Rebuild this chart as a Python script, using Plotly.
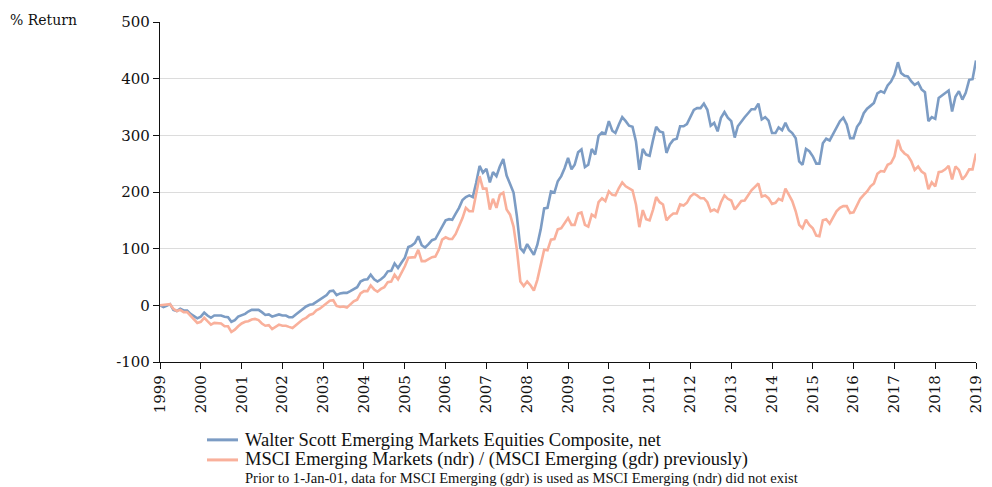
import pandas as pd
import plotly.graph_objects as go

ws_name = "Walter Scott Emerging Markets Equities Composite, net"
msci_name = "MSCI Emerging Markets (ndr) / (MSCI Emerging (gdr) previously)"
note = "Prior to 1-Jan-01, data for MSCI Emerging (gdr) is used as MSCI Emerging (ndr) did not exist"

dates = pd.date_range("1999-01-01", "2019-01-01", freq="MS")

ws = [
    0, -3, -1, 2, -8, -10, -6, -9, -9, -15, -19, -23,
    -20, -13, -18, -22, -18, -18, -18, -20, -21, -29, -26, -20,
    -18, -15, -11, -8, -8, -8, -12, -17, -16, -20, -18, -16,
    -18, -18, -21, -21, -16, -11, -6, -2, 1, 2, 6, 10,
    14, 18, 25, 26, 18, 21, 22, 22, 25, 29, 32, 42,
    45, 46, 54, 46, 42, 46, 51, 60, 61, 74, 66, 75,
    84, 103, 105, 110, 122, 106, 102, 108, 115, 117, 128, 139,
    150, 152, 151, 162, 172, 186, 191, 194, 191, 216, 246, 234,
    241, 217, 235, 228, 245, 258, 229, 214, 199, 157, 101, 94,
    108, 98, 89, 107, 134, 171, 172, 201, 199, 219, 228, 242,
    260, 240, 248, 270, 275, 244, 248, 276, 266, 299, 305, 303,
    325, 308, 304, 319, 332, 325, 317, 315, 289, 239, 276, 266,
    264, 292, 315, 307, 305, 269, 284, 292, 294, 316, 316, 320,
    334, 345, 348, 348, 356, 345, 317, 322, 307, 331, 341, 331,
    325, 296, 316, 325, 332, 339, 346, 346, 356, 328, 332, 326,
    304, 304, 314, 309, 322, 309, 304, 295, 254, 248, 276, 272,
    263, 250, 250, 286, 294, 291, 303, 315, 325, 331, 319, 295,
    295, 315, 323, 339, 347, 352, 357, 374, 378, 375, 388, 395,
    407, 429, 410, 405, 404, 395, 389, 393, 381, 376, 325, 332,
    329, 366, 370, 375, 379, 342, 368, 378, 363, 375, 398, 399,
    432,
]

msci = [
    0, 1, 2, 2, -6, -10, -8, -12, -12, -18, -25, -31,
    -29, -22, -28, -34, -31, -31, -32, -37, -37, -47, -43, -37,
    -32, -29, -28, -25, -24, -26, -32, -36, -35, -42, -38, -34,
    -36, -36, -38, -40, -35, -30, -25, -22, -17, -15, -9, -6,
    -1, 3, 8, 9, -1, -3, -2, -4, 1, 7, 10, 21,
    25, 25, 35, 28, 24, 29, 32, 41, 42, 54, 46, 57,
    69, 84, 84, 85, 98, 78, 78, 81, 85, 86, 98, 116,
    120, 117, 117, 126, 139, 154, 172, 166, 166, 195, 228, 206,
    206, 169, 188, 172, 195, 199, 169, 160, 139, 98, 42, 34,
    42, 35, 26, 45, 69, 98, 97, 116, 117, 134, 136, 145,
    154, 142, 142, 162, 164, 142, 139, 160, 156, 182, 189, 184,
    201, 195, 194, 207, 217, 210, 206, 203, 178, 138, 168, 152,
    150, 169, 191, 182, 178, 150, 157, 162, 162, 178, 176, 181,
    192, 197, 194, 189, 189, 182, 166, 169, 165, 182, 194, 188,
    185, 169, 176, 184, 185, 195, 203, 209, 215, 192, 194, 189,
    179, 181, 188, 185, 206, 195, 184, 166, 142, 136, 151, 142,
    136, 123, 122, 150, 152, 144, 154, 166, 172, 175, 175, 163,
    164, 178, 188, 195, 201, 210, 215, 232, 237, 236, 248, 251,
    263, 292, 275, 268, 264, 254, 239, 245, 236, 232, 205, 217,
    210, 235, 236, 240, 246, 222, 245, 239, 222, 229, 240, 240,
    268,
]

year_ticks = [f"{y}-01-01" for y in range(1999, 2020)]
year_labels = [str(y) for y in range(1999, 2020)]
y_ticks = [-100, 0, 100, 200, 300, 400, 500]
y_labels = [str(v) for v in y_ticks]

BLUE = "#7c9cc4"
SALMON = "#f9b09b"
TICKFONT = dict(family="DejaVu Serif", size=15, color="#111")
LEGFONT = dict(family="Liberation Serif", size=18.5, color="#111")

fig = go.Figure()
fig.add_trace(go.Scatter(x=dates, y=ws, mode="lines", name=ws_name,
                         line=dict(color=BLUE, width=2.6)))
fig.add_trace(go.Scatter(x=dates, y=msci, mode="lines", name=msci_name,
                         line=dict(color=SALMON, width=2.6)))

# manual legend (paper coordinates relative to plot area 816 x 340 px)
leg_x0, leg_x1, txt_x = 0.0576, 0.0956, 0.1017
leg_rows = [(-0.229, BLUE, ws_name), (-0.288, SALMON, msci_name)]
shapes = []
annotations = []
for yy, col, label in leg_rows:
    shapes.append(dict(type="line", xref="paper", yref="paper",
                       x0=leg_x0, x1=leg_x1, y0=yy, y1=yy,
                       line=dict(color=col, width=3)))
    annotations.append(dict(text=label, xref="paper", yref="paper",
                            x=txt_x, y=yy, xanchor="left", yanchor="middle",
                            showarrow=False, font=LEGFONT))
annotations.append(dict(text=note, xref="paper", yref="paper", x=txt_x, y=-0.343,
                        xanchor="left", yanchor="middle", showarrow=False,
                        font=dict(family="Liberation Serif", size=14.6, color="#111")))
annotations.append(dict(text="% Return", xref="paper", yref="paper", x=-0.186, y=1.006,
                        xanchor="left", yanchor="middle", showarrow=False,
                        font=dict(family="DejaVu Serif", size=14, color="#111")))

# page body adds an 8px offset, so margins are shifted by 8px
fig.update_layout(
    width=992, height=487,
    margin=dict(l=152, r=24, t=14, b=133, autoexpand=False),
    paper_bgcolor="white", plot_bgcolor="white",
    showlegend=False,
    xaxis=dict(
        type="date", range=["1999-01-01", "2019-01-01"],
        tickvals=year_ticks, ticktext=year_labels, tickangle=-90,
        tickfont=TICKFONT, showgrid=False, showline=True, linecolor="#111",
        linewidth=1.2, ticks="outside", ticklen=6, tickcolor="#111", zeroline=False,
    ),
    yaxis=dict(
        range=[-100, 500], tickvals=y_ticks, ticktext=y_labels, tickfont=TICKFONT,
        showgrid=True, gridcolor="#dcdcdc", gridwidth=1.2,
        showline=True, linecolor="#111", linewidth=1.2,
        ticks="outside", ticklen=6, tickcolor="#111", zeroline=False,
    ),
    shapes=shapes,
    annotations=annotations,
)

fig.write_html("out.html")
